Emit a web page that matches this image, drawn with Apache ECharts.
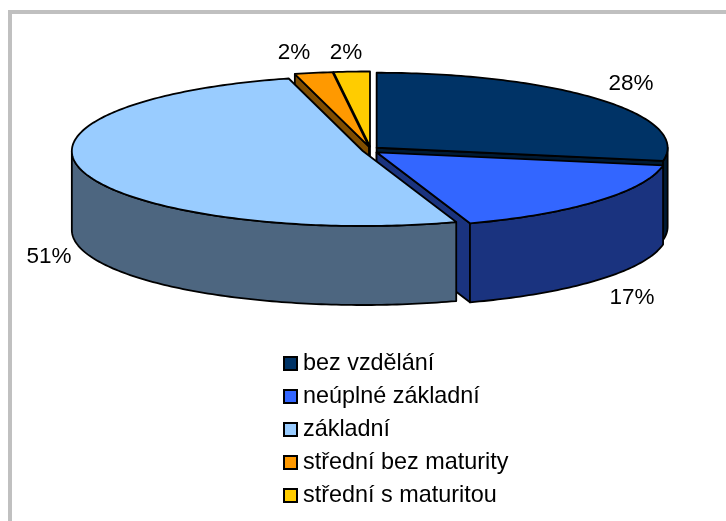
<!DOCTYPE html>
<html>
<head>
<meta charset="utf-8">
<style>html,body{margin:0;padding:0;background:#fff}#c{width:726px;height:521px}</style>
<script src="https://cdn.jsdelivr.net/npm/echarts@6/dist/echarts.min.js"></script>
</head>
<body>
<div id="c"></div>
<script>
const categories = ['bez vzdělání', 'neúplné základní', 'základní', 'střední bez maturity', 'střední s maturitou'];
const values = [27.8, 17.0, 51.1, 2.1, 2.0];
const topColors = ['#003366', '#3366FF', '#99CCFF', '#FF9900', '#FFCC00'];
const sideColors = ['#001A33', '#1A337F', '#4D6680', '#804D00', '#806600'];
const drawOrder = [0, 1, 4, 3, 2];
const labelCentres = [[631, 84], [632, 298], [49, 257], [294, 53], [346, 53]];

const geo = { cx: 370.5, cy: 150, rx: 291, ry: 75, depth: 79, explode: 8, explodeY: 0.44 };
const total = values.reduce((a, b) => a + b, 0);
const starts = [];
values.reduce((s, v, i) => { starts[i] = s; return s + v; }, 0);
const rad = d => d * Math.PI / 180;

function renderSlice(i) {
  return function (params, api) {
    const a0 = starts[i] / total * 360;
    const a1 = a0 + api.value(0) / total * 360;
    const mid = rad((a0 + a1) / 2);
    const ax = geo.cx + Math.sin(mid) * geo.explode;
    const ay = geo.cy - Math.cos(mid) * geo.explode * geo.explodeY;
    const pt = (a, dz) => [ax + geo.rx * Math.sin(rad(a)), ay - geo.ry * Math.cos(rad(a)) + (dz || 0)];
    const arc = (from, to, dz) => {
      const out = [];
      const n = Math.max(1, Math.ceil(Math.abs(to - from)));
      for (let k = 0; k <= n; k++) out.push(pt(from + (to - from) * k / n, dz));
      return out;
    };
    const line = { stroke: '#000', lineWidth: 1.8, lineJoin: 'round' };
    const poly = (points, fill) => ({ type: 'polygon', shape: { points }, style: Object.assign({ fill }, line) });
    const children = [];
    const wall = a => poly([[ax, ay], pt(a), pt(a, geo.depth), [ax, ay + geo.depth]], sideColors[i]);
    if (Math.cos(rad(a0 - 90)) < -1e-6) children.push(wall(a0));
    if (Math.cos(rad(a1 + 90)) < -1e-6) children.push(wall(a1));
    const w0 = Math.max(a0, 90), w1 = Math.min(a1, 270);
    if (w1 > w0) children.push(poly(arc(w0, w1, 0).concat(arc(w1, w0, geo.depth)), sideColors[i]));
    children.push(poly([[ax, ay]].concat(arc(a0, a1, 0)), topColors[i]));
    children.push({
      type: 'text', z2: 50,
      style: {
        text: Math.round(api.value(0)) + '%', x: labelCentres[i][0], y: labelCentres[i][1],
        align: 'center', verticalAlign: 'middle', fill: '#000',
        font: '22.5px "Liberation Sans", Arial, sans-serif'
      }
    });
    return { type: 'group', children };
  };
}

const chart = echarts.init(document.getElementById('c'), null, { renderer: 'canvas' });
chart.setOption({
  animation: false,
  backgroundColor: '#fff',
  graphic: [
    { type: 'rect', shape: { x: 8, y: 10, width: 718, height: 4 }, style: { fill: '#C0C0C0' } },
    { type: 'rect', shape: { x: 8, y: 10, width: 4, height: 511 }, style: { fill: '#C0C0C0' } }
  ],
  legend: {
    orient: 'vertical', left: 283, top: 352, height: 165,
    itemWidth: 13, itemHeight: 13, itemGap: 10,
    padding: 0, selectedMode: false, icon: 'rect',
    data: categories,
    textStyle: { fontFamily: '"Liberation Sans", Arial, sans-serif', fontSize: 23.4, color: '#000', padding: [0, 0, 0, 1] }
  },
  series: drawOrder.map(i => ({
    type: 'custom',
    name: categories[i],
    coordinateSystem: 'none',
    silent: true,
    itemStyle: { color: topColors[i], borderColor: '#000', borderWidth: 1.5 },
    renderItem: renderSlice(i),
    data: [[values[i]]]
  }))
});
</script>
</body>
</html>
